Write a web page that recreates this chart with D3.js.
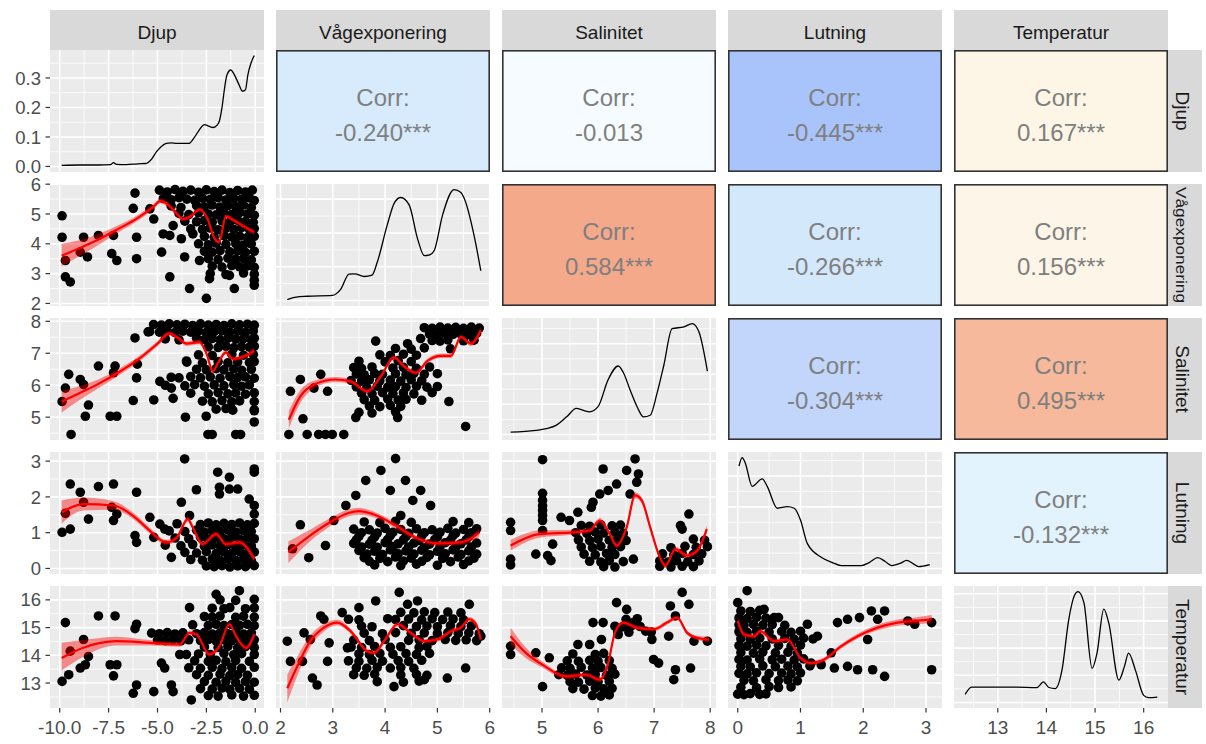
<!DOCTYPE html>
<html><head><meta charset="utf-8">
<script src="https://cdn.jsdelivr.net/npm/d3@7"></script>
<style>body{margin:0;background:#fff}svg{display:block}text{font-family:"Liberation Sans",Arial,sans-serif}</style>
</head><body>
<svg id="c" width="1206" height="744"></svg>
<script>
// ---------- data ----------
const variables = ["Djup","Vågexponering","Salinitet","Lutning","Temperatur"];
const varRanges = [[-10,-0.05],[2.1,5.82],[4.46,7.93],[0,3.1],[12.3,16.3]];
const tickValues = [[-10,-7.5,-5,-2.5,0],[2,3,4,5,6],[5,6,7,8],[0,1,2,3],[13,14,15,16]];
const tickLabels = [["-10.0","-7.5","-5.0","-2.5","0.0"],["2","3","4","5","6"],["5","6","7","8"],["0","1","2","3"],["13","14","15","16"]];
const djupDensityTicks = [0,0.1,0.2,0.3];
const djupDensityLabels = ["0.0","0.1","0.2","0.3"];

// correlation cells [row, col]
const corrCells = [[0,1],[0,2],[0,3],[0,4],[1,2],[1,3],[1,4],[2,3],[2,4],[3,4]];
const corrValues = ["-0.240","-0.013","-0.445","0.167","0.584","-0.266","0.156","-0.304","0.495","-0.132"];
const corrStars = ["***","","***","***","***","***","***","***","***","***"];

// diagonal densities [x, density]
const densDjup = [[-9.9,0.004],[-9.0,0.005],[-8.0,0.005],[-7.4,0.006],[-7.25,0.013],[-7.1,0.007],[-6.6,0.006],[-6.0,0.009],[-5.6,0.01],[-5.3,0.025],[-5.05,0.05],[-4.8,0.068],[-4.55,0.078],[-4.3,0.08],[-4.0,0.078],[-3.4,0.078],[-3.15,0.095],[-2.85,0.125],[-2.6,0.142],[-2.35,0.136],[-2.15,0.132],[-1.95,0.14],[-1.83,0.155],[-1.7,0.2],[-1.58,0.26],[-1.45,0.31],[-1.25,0.327],[-1.1,0.315],[-0.85,0.28],[-0.65,0.255],[-0.5,0.26],[-0.38,0.31],[-0.22,0.35],[-0.05,0.376]];
const densVag = [[2.13,0.005],[2.3,0.02],[2.51,0.025],[2.99,0.03],[3.15,0.066],[3.31,0.156],[3.42,0.158],[3.6,0.142],[3.75,0.15],[3.85,0.226],[4.04,0.446],[4.18,0.58],[4.3,0.61],[4.46,0.566],[4.62,0.366],[4.75,0.265],[4.85,0.27],[4.94,0.296],[5.1,0.507],[5.32,0.657],[5.45,0.64],[5.51,0.607],[5.7,0.387],[5.83,0.176]];
const densSal = [[4.44,0.015],[4.89,0.027],[5.1,0.04],[5.25,0.06],[5.45,0.12],[5.61,0.172],[5.75,0.158],[5.85,0.15],[6.0,0.184],[6.18,0.363],[6.36,0.453],[6.45,0.41],[6.57,0.296],[6.7,0.18],[6.81,0.116],[6.93,0.127],[7.05,0.27],[7.17,0.453],[7.32,0.7],[7.53,0.712],[7.68,0.734],[7.8,0.678],[7.95,0.419]];
const densLut = [[0.02,0.664],[0.07,0.72],[0.12,0.685],[0.23,0.533],[0.39,0.581],[0.47,0.533],[0.63,0.391],[0.79,0.401],[0.9,0.391],[1.0,0.314],[1.11,0.161],[1.33,0.073],[1.5,0.04],[1.65,0.019],[1.97,0.019],[2.1,0.04],[2.23,0.07],[2.35,0.045],[2.45,0.019],[2.6,0.035],[2.69,0.052],[2.8,0.03],[2.88,0.012],[3.06,0.025]];
const densTemp = [[12.33,0.059],[12.46,0.113],[12.9,0.113],[13.36,0.113],[13.8,0.109],[13.94,0.151],[14.05,0.11],[14.18,0.102],[14.32,0.238],[14.46,0.612],[14.58,0.79],[14.65,0.816],[14.77,0.736],[14.94,0.251],[15.04,0.363],[15.18,0.686],[15.28,0.587],[15.49,0.164],[15.6,0.26],[15.69,0.363],[15.83,0.238],[16.0,0.052],[16.1,0.035],[16.28,0.039]];

// scatter points [x, y]
const vagDjup = [[-9.88,4.94],[-9.88,4.22],[-9.71,3.44],[-9.71,2.89],[-9.46,2.72],[-8.78,4.22],[-8.95,3.72],[-8.58,3.56],[-8.02,4.28],[-7.25,4.28],[-7.34,3.67],[-7.08,3.44],[-6.15,5.7],[-6.24,5.19],[-6.07,4.22],[-6.07,3.5],[-5.39,5.17],[-5.19,4.83],[-4.79,3.72],[-4.71,4.33],[-4.37,4.28],[-4.37,2.89],[-3.36,2.5],[-2.5,2.17],[-2.34,2.83],[-1.32,2.94],[-1.07,2.5],[-0.05,2.78],[-0.05,2.61],[-3.78,4.17],[-3.61,3.56],[-3.19,4.33],[-2.85,3.44],[-4.2,4.61],
[-4.9,5.8],[-4.5,5.74],[-4.1,5.82],[-3.7,5.76],[-3.3,5.8],[-2.9,5.73],[-2.5,5.81],[-2.1,5.75],[-1.7,5.8],[-1.3,5.72],[-0.9,5.79],[-0.5,5.74],[-0.15,5.8],
[-4.7,5.52],[-4.3,5.48],[-3.9,5.55],[-3.5,5.5],[-3.1,5.46],[-2.7,5.53],[-2.3,5.49],[-1.9,5.55],[-1.5,5.47],[-1.1,5.52],[-0.7,5.5],[-0.3,5.54],[-0.05,5.45],
[-4.3,5.27],[-3.8,5.22],[-3.0,5.28],[-2.6,5.24],[-2.2,5.3],[-1.8,5.23],[-1.4,5.28],[-1.0,5.25],[-0.6,5.3],[-0.2,5.22],
[-3.9,5.02],[-3.4,4.98],[-2.9,5.04],[-2.4,5.0],[-2.0,4.97],[-1.6,5.03],[-1.2,4.99],[-0.8,5.05],[-0.4,5.0],[-0.05,4.96],
[-3.6,4.76],[-3.0,4.74],[-2.6,4.78],[-2.2,4.72],[-1.7,4.77],[-1.3,4.73],[-0.9,4.79],[-0.5,4.75],[-0.1,4.72],
[-3.3,4.5],[-2.7,4.48],[-2.3,4.53],[-1.9,4.47],[-1.5,4.52],[-1.1,4.49],[-0.7,4.54],[-0.3,4.48],[-0.05,4.51],
[-2.6,4.25],[-2.1,4.22],[-1.6,4.27],[-1.2,4.23],[-0.8,4.26],[-0.4,4.21],[-0.05,4.25],
[-2.9,4.0],[-2.4,3.97],[-2.0,4.02],[-1.5,3.98],[-1.0,4.01],[-0.6,3.96],[-0.2,4.0],
[-2.6,3.75],[-2.2,3.72],[-1.8,3.77],[-1.3,3.73],[-0.9,3.76],[-0.5,3.71],[-0.05,3.75],
[-2.4,3.5],[-1.9,3.47],[-1.4,3.52],[-1.0,3.48],[-0.6,3.51],[-0.2,3.46],
[-2.2,3.25],[-1.7,3.22],[-1.2,3.27],[-0.8,3.23],[-0.4,3.26],[-0.05,3.21],
[-2.3,3.0],[-1.5,2.97],[-0.6,3.02],[-0.05,2.98]];

const salDjup = [[-9.88,5.49],[-9.71,5.91],[-9.54,6.34],[-9.42,4.46],[-8.95,6.18],[-8.78,6.02],[-8.53,5.38],[-8.69,5.03],[-8.02,6.6],[-7.42,5.03],[-7.08,5.03],[-7.17,6.6],[-7.25,6.39],[-6.15,7.48],[-6.07,6.23],[-6.24,5.52],[-6.03,6.66],[-5.19,5.54],[-5.48,7.67],[-4.88,6.12],[-4.29,5.91],[-4.2,5.59],[-3.57,5.0],[-3.52,6.76],[-2.51,5.03],[-2.42,4.46],[-2.2,4.46],[-1.0,4.46],[-0.75,4.46],[-0.05,5.2],[-0.05,4.85],[-1.15,5.22],
[-5.2,7.9],[-4.8,7.88],[-4.4,7.92],[-4.0,7.89],[-3.6,7.91],[-3.2,7.87],[-2.8,7.92],[-2.4,7.88],[-2.0,7.9],[-1.6,7.87],[-1.2,7.92],[-0.8,7.89],[-0.4,7.91],[-0.05,7.88],
[-5.4,7.68],[-4.9,7.66],[-4.5,7.7],[-4.1,7.65],[-3.7,7.69],[-3.3,7.66],[-2.9,7.7],[-2.5,7.65],[-2.1,7.68],[-1.7,7.7],[-1.3,7.66],[-0.9,7.69],[-0.5,7.65],[-0.1,7.7],
[-4.6,7.45],[-3.9,7.42],[-3.0,7.47],[-2.6,7.43],[-2.2,7.46],[-1.8,7.42],[-1.4,7.47],[-1.0,7.44],[-0.6,7.46],[-0.2,7.42],[-0.05,7.47],
[-2.4,7.2],[-1.9,7.18],[-1.5,7.22],[-1.1,7.17],[-0.7,7.21],[-0.3,7.19],[-0.05,7.22],
[-2.9,6.95],[-2.2,6.93],[-1.2,6.97],[-0.6,6.94],[-0.1,6.96],
[-3.5,6.72],[-2.7,6.7],[-1.9,6.74],[-1.4,6.7],[-0.9,6.73],[-0.3,6.71],[-0.05,6.74],
[-3.0,6.5],[-2.5,6.48],[-2.0,6.52],[-1.6,6.48],[-1.1,6.51],[-0.7,6.47],[-0.2,6.5],
[-4.3,6.25],[-3.9,6.23],[-3.3,6.27],[-2.8,6.23],[-2.3,6.26],[-1.8,6.22],[-1.3,6.27],[-0.9,6.24],[-0.5,6.26],[-0.05,6.22],
[-4.6,6.0],[-3.6,5.98],[-3.1,6.02],[-2.6,5.97],[-2.1,6.01],[-1.6,5.98],[-1.1,6.02],[-0.7,5.97],[-0.3,6.01],
[-3.3,5.75],[-2.4,5.73],[-1.9,5.77],[-1.4,5.73],[-1.0,5.76],[-0.5,5.72],[-0.05,5.76],
[-2.7,5.5],[-2.2,5.48],[-1.7,5.52],[-1.2,5.48],[-0.8,5.51],[-0.05,5.49],
[-2.0,5.25],[-1.5,5.27],[-0.05,5.23]];

const lutDjup = [[-9.88,1.01],[-9.46,1.1],[-9.71,1.54],[-9.46,2.36],[-8.95,2.13],[-8.78,1.85],[-8.53,1.38],[-8.02,2.29],[-7.25,2.36],[-7.34,1.71],[-7.08,1.52],[-7.25,1.34],[-6.15,0.92],[-6.07,0.73],[-6.07,2.13],[-5.39,1.43],[-5.19,0.87],[-4.88,1.24],[-4.63,1.1],[-4.29,0.31],[-3.78,1.85],[-3.61,3.06],[-3.01,2.2],[-3.36,1.48],[-1.92,2.69],[-1.83,2.27],[-1.83,2.08],[-1.32,2.55],[-1.32,2.22],[-0.9,2.22],[-0.31,1.94],[-0.05,2.69],[-0.05,2.78],[-0.05,1.76],[-0.05,1.52],
[-4.0,1.25],[-2.8,1.23],[-2.4,1.27],[-2.0,1.22],[-1.6,1.26],[-1.2,1.23],[-0.8,1.27],[-0.4,1.22],[-0.05,1.26],
[-4.4,1.05],[-3.6,1.03],[-3.0,1.07],[-2.6,1.02],[-2.2,1.06],[-1.8,1.03],[-1.4,1.07],[-1.0,1.02],[-0.6,1.06],[-0.2,1.03],
[-4.1,0.85],[-3.4,0.83],[-2.8,0.87],[-2.4,0.82],[-2.0,0.86],[-1.6,0.83],[-1.2,0.87],[-0.8,0.82],[-0.4,0.86],[-0.05,0.83],
[-4.6,0.65],[-3.8,0.63],[-3.2,0.67],[-2.6,0.62],[-2.2,0.66],[-1.8,0.63],[-1.4,0.67],[-1.0,0.62],[-0.6,0.66],[-0.2,0.63],
[-3.6,0.45],[-3.0,0.43],[-2.5,0.47],[-2.0,0.42],[-1.6,0.46],[-1.2,0.43],[-0.8,0.47],[-0.4,0.42],[-0.05,0.46],
[-3.3,0.25],[-2.7,0.23],[-2.2,0.27],[-1.8,0.22],[-1.4,0.26],[-1.0,0.23],[-0.6,0.27],[-0.2,0.22],
[-2.5,0.07],[-2.1,0.05],[-1.7,0.08],[-1.3,0.04],[-0.9,0.07],[-0.5,0.05],[-0.05,0.08]];

const tempDjup = [[-9.88,13.06],[-9.71,15.18],[-9.46,14.15],[-9.54,13.3],[-8.78,14.57],[-8.95,13.54],[-8.69,13.66],[-8.53,13.96],[-8.02,15.42],[-7.17,15.42],[-7.42,13.66],[-7.08,13.66],[-7.25,13.26],[-6.15,14.96],[-6.07,15.12],[-6.07,12.93],[-6.24,12.63],[-5.19,12.69],[-4.8,13.72],[-4.63,13.54],[-4.29,12.93],[-4.2,12.69],[-3.86,14.03],[-3.52,14.03],[-3.36,15.72],[-3.27,12.39],[-2.0,16.2],[-0.81,16.33],
[-5.3,14.8],[-4.9,14.78],[-4.5,14.82],[-4.1,14.77],[-3.7,14.81],[-3.0,14.78],[-2.6,14.82],[-2.2,14.77],[-1.8,14.81],[-1.4,14.78],[-1.0,14.82],[-0.6,14.77],[-0.2,14.81],
[-5.0,14.55],[-4.6,14.53],[-4.2,14.57],[-3.8,14.52],[-3.4,14.56],[-2.8,14.53],[-2.4,14.57],[-2.0,14.52],[-1.6,14.56],[-1.2,14.53],[-0.8,14.57],[-0.4,14.52],[-0.05,14.56],
[-3.2,15.1],[-2.4,15.08],[-2.0,15.12],[-1.6,15.07],[-1.2,15.11],[-0.8,15.08],[-0.4,15.12],[-0.05,15.07],
[-2.6,15.4],[-2.2,15.38],[-1.8,15.42],[-1.0,15.37],[-0.6,15.41],[-0.05,15.38],
[-2.2,15.7],[-1.6,15.68],[-1.3,15.72],[-0.5,15.68],[-0.05,15.71],
[-1.8,16.0],[-1.0,15.98],[-0.05,16.02],
[-2.6,14.3],[-1.9,14.28],[-1.4,14.32],[-0.9,14.27],[-0.5,14.31],[-0.05,14.28],
[-2.9,14.05],[-2.3,14.03],[-1.6,14.07],[-1.1,14.02],[-0.7,14.06],[-0.05,14.03],
[-3.1,13.8],[-2.4,13.78],[-2.0,13.82],[-1.5,13.77],[-1.0,13.81],[-0.3,13.78],
[-3.4,13.55],[-2.8,13.53],[-2.2,13.57],[-1.7,13.52],[-1.2,13.56],[-0.7,13.53],[-0.05,13.57],
[-3.0,13.3],[-2.4,13.28],[-1.8,13.32],[-1.3,13.27],[-0.9,13.31],[-0.4,13.28],
[-2.6,13.05],[-2.0,13.03],[-1.5,13.07],[-1.0,13.02],[-0.5,13.06],[-0.05,13.03],
[-2.8,12.8],[-2.2,12.78],[-1.7,12.82],[-1.3,12.77],[-0.8,12.81],[-0.3,12.78],
[-2.4,12.55],[-1.9,12.53],[-1.2,12.57],[-0.6,12.53],[-0.05,12.56]];

const salVag = [[2.16,4.46],[2.51,4.46],[2.73,4.46],[2.86,4.46],[2.99,4.46],[3.21,4.46],[2.19,5.81],[2.38,6.18],[2.43,4.95],[2.77,6.34],[2.9,5.81],[2.64,5.91],[3.82,7.38],[4.24,4.99],[3.44,4.99],[5.54,4.71],[5.22,5.49],[4.68,7.46],[4.43,7.3],
[4.75,7.8],[4.9,7.78],[5.05,7.82],[5.2,7.79],[5.35,7.81],[5.5,7.78],[5.65,7.82],[5.8,7.79],
[4.85,7.6],[5.0,7.58],[5.15,7.62],[5.3,7.59],[5.45,7.61],[5.6,7.58],[5.75,7.62],
[4.9,7.4],[5.05,7.38],[5.2,7.42],[5.5,7.39],[5.7,7.41],
[4.2,7.15],[4.5,7.13],[4.75,7.17],[5.25,7.14],
[3.9,6.95],[4.1,6.93],[4.35,6.97],[4.6,6.94],
[3.5,6.75],[4.0,6.73],[4.25,6.77],[4.5,6.74],
[3.4,6.55],[3.55,6.53],[3.75,6.57],[4.15,6.54],[4.35,6.56],[4.6,6.53],[4.85,6.57],
[3.45,6.35],[3.6,6.33],[3.8,6.37],[3.95,6.34],[4.2,6.36],[4.4,6.33],[4.55,6.37],[4.75,6.34],[5.0,6.36],
[3.35,6.15],[3.55,6.13],[3.7,6.17],[3.9,6.14],[4.1,6.16],[4.3,6.13],[4.5,6.17],[4.7,6.14],
[3.45,5.95],[3.65,5.93],[3.85,5.97],[4.05,5.94],[4.2,5.96],[4.4,5.93],[4.6,5.97],[4.8,5.94],[5.0,5.96],
[3.55,5.75],[3.75,5.73],[3.95,5.77],[4.15,5.74],[4.35,5.76],[4.55,5.73],[4.9,5.77],
[3.6,5.55],[3.8,5.53],[4.05,5.57],[4.25,5.54],[4.4,5.56],[4.7,5.53],
[3.7,5.35],[3.9,5.33],[4.1,5.37],[4.3,5.34],
[3.5,5.15],[3.75,5.13],[4.2,5.17]];

const lutVag = [[2.23,0.55],[2.38,1.22],[2.54,0.3],[2.86,0.64],[3.02,1.34],[3.25,1.76],[3.44,2.04],[3.63,2.46],[3.92,2.74],[4.2,3.07],[4.1,2.18],[4.39,2.46],[4.53,1.9],[4.68,2.18],[4.87,1.76],[4.3,1.48],
[3.6,1.3],[3.9,1.28],[4.2,1.32],[4.5,1.29],[5.3,1.31],[5.6,1.28],
[3.4,1.1],[3.7,1.08],[4.0,1.12],[4.3,1.09],[4.6,1.11],[4.9,1.08],[5.2,1.12],[5.5,1.09],[5.75,1.11],
[3.55,1.0],[3.85,0.99],[4.15,1.01],[4.45,0.98],[4.75,1.0],[5.05,1.01],[5.35,0.99],[5.65,1.0],
[3.5,0.9],[3.8,0.88],[4.1,0.92],[4.4,0.89],[4.7,0.91],[5.0,0.88],[5.3,0.92],[5.6,0.89],
[3.45,0.8],[3.75,0.79],[4.05,0.81],[4.35,0.8],[4.65,0.78],[4.95,0.81],[5.25,0.79],[5.55,0.8],
[3.4,0.7],[3.7,0.68],[4.0,0.72],[4.25,0.69],[4.55,0.71],[4.85,0.68],[5.15,0.72],[5.45,0.69],[5.75,0.71],
[3.55,0.6],[3.85,0.59],[4.15,0.61],[4.45,0.6],[4.75,0.58],[5.05,0.61],[5.35,0.59],[5.65,0.6],
[3.5,0.5],[3.8,0.48],[4.1,0.52],[4.4,0.49],[4.7,0.51],[5.0,0.48],[5.3,0.52],[5.6,0.49],
[3.65,0.4],[3.95,0.39],[4.25,0.41],[4.55,0.4],[4.85,0.38],[5.15,0.41],[5.45,0.39],[5.75,0.4],
[3.6,0.3],[3.9,0.28],[4.2,0.32],[4.5,0.29],[4.8,0.31],[5.1,0.28],[5.4,0.32],[5.7,0.29],
[3.7,0.2],[4.05,0.19],[4.35,0.21],[4.7,0.2],[5.25,0.19],[5.6,0.21],
[3.8,0.1],[4.3,0.08],[4.6,0.12],[5.0,0.09],[5.5,0.11]];

const tempVag = [[2.13,14.51],[2.19,13.78],[2.42,13.78],[2.61,13.18],[2.7,12.93],[2.77,15.42],[2.83,15.3],[2.9,13.78],[2.45,14.81],[2.57,14.57],[2.93,14.45],[3.18,15.54],[3.28,14.27],[3.5,15.72],[3.82,15.96],[4.27,16.27],[4.43,15.84],[4.62,15.96],[5.19,13.18],[5.54,13.54],[5.61,15.84],[5.83,14.69],[4.75,13.12],[4.17,12.87],
[4.3,15.55],[4.55,15.53],[4.75,15.57],[4.95,15.54],[5.2,15.56],[5.45,15.53],
[3.3,15.3],[3.5,15.28],[4.05,15.32],[4.2,15.29],[4.45,15.31],[4.7,15.28],[4.9,15.32],[5.1,15.29],[5.3,15.31],[5.5,15.28],
[3.55,15.05],[3.75,15.03],[4.35,15.07],[4.6,15.04],[4.8,15.06],[5.0,15.03],[5.25,15.07],[5.45,15.04],[5.65,15.06],
[3.6,14.8],[3.95,14.78],[4.2,14.82],[4.5,14.79],[4.75,14.81],[5.0,14.78],[5.2,14.82],[5.4,14.79],[5.6,14.81],[5.8,14.78],
[3.4,14.55],[3.7,14.53],[4.0,14.57],[4.45,14.54],[4.65,14.56],[4.9,14.53],[5.15,14.57],[5.35,14.54],[5.55,14.56],[5.75,14.53],
[3.35,14.3],[3.55,14.28],[3.8,14.32],[4.1,14.29],[4.3,14.31],[4.65,14.28],[4.8,14.32],
[3.5,14.05],[3.7,14.03],[3.9,14.07],[4.15,14.04],[4.4,14.06],[4.6,14.03],[4.85,14.07],
[3.3,13.8],[3.5,13.78],[3.75,13.82],[3.95,13.79],[4.25,13.81],[4.45,13.78],[4.7,13.82],
[3.45,13.55],[3.65,13.53],[3.85,13.57],[4.1,13.54],[4.3,13.56],[4.55,13.53],
[3.4,13.3],[3.6,13.28],[3.8,13.32],[4.3,13.29],[4.6,13.31],[4.8,13.28],
[3.85,13.05],[4.35,13.03],[4.65,13.07]];

const lutSal = [[5.01,3.04],[5.01,2.1],[5.01,1.9],[5.01,1.75],[5.01,1.62],[5.01,1.48],[5.01,1.34],[5.01,1.06],[4.44,1.29],[4.44,1.06],[4.44,0.26],[4.44,0.1],[4.89,0.4],[5.1,0.36],[5.16,0.22],[5.19,0.68],[5.34,1.43],[5.49,1.34],[5.64,1.57],[6.09,2.78],[5.91,1.85],[5.88,1.71],[6.03,2.08],[6.18,2.18],[6.33,2.36],[6.51,2.74],[6.66,3.06],[6.72,2.64],[6.69,2.41],[6.57,2.08],[6.63,0.26],[7.62,1.52],[7.47,1.2],[7.5,1.1],
[5.7,1.2],[5.85,1.18],[6.05,1.22],[6.25,1.19],[6.4,1.21],
[5.6,1.0],[5.8,0.98],[5.95,1.02],[6.1,0.99],[6.3,1.01],[6.45,0.98],
[5.65,0.8],[5.85,0.78],[6.0,0.82],[6.2,0.79],[6.35,0.81],[6.5,0.78],[7.7,0.82],[7.9,0.79],
[5.7,0.6],[5.9,0.58],[6.05,0.62],[6.25,0.59],[6.4,0.61],[7.3,0.58],[7.55,0.62],[7.75,0.59],[7.95,0.61],
[5.75,0.4],[5.95,0.38],[6.15,0.42],[6.3,0.39],[7.15,0.41],[7.35,0.38],[7.5,0.42],[7.7,0.39],[7.85,0.41],
[5.85,0.2],[6.05,0.18],[6.2,0.22],[6.45,0.19],[7.1,0.21],[7.25,0.18],[7.4,0.22],[7.6,0.19],[7.8,0.21],
[6.1,0.05],[6.3,0.04],[7.1,0.06],[7.3,0.04],[7.5,0.06],[7.7,0.05]];

const tempSal = [[4.44,14.03],[4.44,14.33],[4.89,14.09],[5.01,12.87],[5.13,13.91],[6.33,15.9],[5.91,15.18],[6.09,15.18],[5.64,14.39],[5.85,14.39],[6.06,14.57],[6.96,14.57],[7.29,15.78],[7.5,16.27],[7.62,15.84],[7.35,13.12],[7.38,13.48],[7.65,13.54],[6.99,13.85],[7.08,13.72],[6.36,14.75],[7.95,14.51],[7.71,14.51],[7.38,15.42],[7.26,14.69],[6.51,15.66],[6.63,15.18],
[5.55,14.05],[5.95,14.03],[6.1,14.07],
[5.45,13.8],[5.65,13.78],[5.85,13.82],[6.0,13.79],[6.2,13.81],
[5.35,13.55],[5.5,13.53],[5.7,13.57],[5.9,13.54],[6.05,13.56],[6.25,13.53],
[5.3,13.3],[5.45,13.28],[5.6,13.32],[5.8,13.29],[5.95,13.31],[6.15,13.28],[6.3,13.32],
[5.5,13.05],[5.65,13.03],[5.85,13.07],[6.0,13.04],[6.2,13.06],
[5.55,12.8],[5.75,12.78],[5.95,12.82],[6.1,12.79],[6.25,12.81],
[5.9,12.55],[6.05,12.53],[6.2,12.57],
[6.3,15.05],[6.45,15.03],[6.6,15.07],[6.75,15.04],
[6.35,14.85],[6.55,14.83],[6.85,14.87],[6.95,14.84],
[6.5,15.3],[6.7,15.32]];

const tempLut = [[0.15,16.33],[0.0,15.9],[0.42,15.66],[0.58,15.36],[1.59,15.18],[1.75,15.3],[1.94,15.36],[2.13,15.6],[2.34,15.6],[2.23,15.3],[2.71,15.24],[2.82,15.12],[3.09,15.18],[3.09,13.48],[1.75,13.6],[1.91,13.48],[2.15,13.48],[2.34,13.24],[1.54,13.54],[1.33,13.66],[1.49,14.09],[2.07,14.57],[1.11,15.12],[1.27,14.69],[1.17,13.72],
[0.05,15.6],[0.2,15.58],[0.35,15.62],
[0.02,15.35],[0.15,15.33],[0.3,15.37],[0.45,15.34],[0.65,15.36],
[0.02,15.1],[0.1,15.08],[0.25,15.12],[0.4,15.09],[0.55,15.11],[0.75,15.08],
[0.02,14.85],[0.15,14.83],[0.3,14.87],[0.5,14.84],[0.7,14.86],[0.85,14.83],[1.0,14.87],
[0.05,14.6],[0.2,14.58],[0.35,14.62],[0.55,14.59],[0.75,14.61],[0.9,14.58],[1.05,14.62],[1.2,14.59],
[0.02,14.35],[0.15,14.33],[0.3,14.37],[0.45,14.34],[0.65,14.36],[0.85,14.33],[1.0,14.37],
[0.05,14.1],[0.25,14.08],[0.4,14.12],[0.6,14.09],[0.8,14.11],[0.95,14.08],
[0.02,13.85],[0.15,13.83],[0.35,13.87],[0.55,13.84],[0.7,13.86],[0.9,13.83],[1.05,13.87],
[0.05,13.6],[0.2,13.58],[0.4,13.62],[0.6,13.59],[0.8,13.61],[0.95,13.58],[1.15,13.62],
[0.02,13.35],[0.15,13.33],[0.3,13.37],[0.5,13.34],[0.7,13.36],[0.85,13.33],[1.0,13.37],
[0.1,13.1],[0.25,13.08],[0.45,13.12],[0.65,13.09],[0.8,13.11],[0.95,13.08],
[0.05,12.85],[0.3,12.83],[0.5,12.87],[0.65,12.84],[0.85,12.86],
[0.0,12.6],[0.1,12.58],[0.2,12.62],[0.35,12.59],[0.45,12.61]];

// loess fits [x, fit, lower, upper]
const fitVagDjup = [[-9.9,3.6,3.25,4.0],[-9.0,3.85,3.58,4.12],[-8.0,4.15,3.97,4.33],[-7.0,4.5,4.38,4.62],[-6.0,4.87,4.77,4.97],[-5.2,5.25,5.16,5.34],[-4.85,5.44,5.36,5.52],[-4.5,5.33,5.25,5.41],[-4.0,5.0,4.92,5.08],[-3.7,4.83,4.76,4.9],[-3.36,4.9,4.83,4.97],[-2.85,5.15,5.08,5.22],[-2.45,4.85,4.78,4.92],[-2.1,4.2,4.13,4.27],[-1.85,4.06,3.99,4.13],[-1.5,4.92,4.85,4.99],[-1.0,4.75,4.68,4.82],[-0.5,4.55,4.48,4.62],[-0.05,4.39,4.3,4.48]];
const fitSalDjup = [[-9.9,5.49,5.15,5.82],[-9.0,5.75,5.53,5.97],[-8.0,6.05,5.91,6.19],[-7.0,6.4,6.3,6.5],[-6.0,6.8,6.71,6.89],[-5.0,7.3,7.22,7.38],[-4.4,7.62,7.55,7.69],[-4.0,7.5,7.43,7.57],[-3.5,7.3,7.23,7.37],[-2.85,7.35,7.28,7.42],[-2.5,7.0,6.93,7.07],[-2.17,6.44,6.37,6.51],[-1.9,6.7,6.63,6.77],[-1.5,7.03,6.96,7.1],[-1.15,6.82,6.75,6.89],[-0.5,6.92,6.85,6.99],[-0.05,7.08,6.98,7.18]];
const fitLutDjup = [[-9.9,1.57,1.25,1.9],[-8.8,1.8,1.62,1.98],[-7.25,1.76,1.64,1.88],[-6.15,1.43,1.34,1.52],[-5.4,1.06,0.98,1.14],[-4.55,0.73,0.66,0.8],[-4.0,0.87,0.8,0.94],[-3.45,1.38,1.31,1.45],[-3.2,1.15,1.08,1.22],[-2.7,0.68,0.61,0.75],[-2.0,0.96,0.89,1.03],[-1.5,0.68,0.61,0.75],[-0.8,0.73,0.66,0.8],[-0.05,0.26,0.16,0.36]];
const fitTempDjup = [[-9.9,13.9,13.45,14.45],[-8.8,14.27,13.95,14.55],[-7.1,14.51,14.35,14.67],[-5.4,14.45,14.35,14.55],[-3.86,14.39,14.31,14.47],[-3.36,14.81,14.73,14.89],[-3.0,14.75,14.67,14.83],[-2.35,14.03,13.95,14.11],[-1.83,14.33,14.25,14.41],[-1.32,15.12,15.04,15.2],[-0.98,14.69,14.61,14.77],[-0.47,14.27,14.19,14.35],[-0.05,14.75,14.63,14.87]];
const fitSalVag = [[2.16,4.92,4.65,5.2],[2.38,5.65,5.45,5.85],[2.64,6.02,5.9,6.14],[3.05,6.18,6.1,6.26],[3.34,6.12,6.05,6.19],[3.66,5.81,5.74,5.88],[3.92,6.28,6.21,6.35],[4.17,6.87,6.8,6.94],[4.36,6.6,6.53,6.67],[4.59,6.39,6.32,6.46],[4.81,6.76,6.69,6.83],[5.07,6.92,6.85,6.99],[5.26,6.92,6.85,6.99],[5.45,7.51,7.44,7.58],[5.64,7.3,7.23,7.37],[5.83,7.72,7.62,7.82]];
const fitLutVag = [[2.15,0.45,0.15,0.75],[2.5,0.85,0.67,1.03],[2.9,1.25,1.13,1.37],[3.3,1.55,1.45,1.65],[3.5,1.6,1.5,1.7],[3.8,1.5,1.42,1.58],[4.2,1.2,1.12,1.28],[4.6,0.85,0.78,0.92],[5.0,0.7,0.63,0.77],[5.4,0.72,0.65,0.79],[5.6,0.8,0.72,0.88],[5.8,1.0,0.88,1.12]];
const fitTempVag = [[2.13,12.81,12.3,13.3],[2.32,13.6,13.25,13.95],[2.57,14.51,14.3,14.72],[2.83,15.0,14.86,15.14],[3.09,15.18,15.08,15.28],[3.34,14.87,14.78,14.96],[3.66,14.15,14.07,14.23],[3.79,14.09,14.01,14.17],[3.98,14.51,14.43,14.59],[4.24,15.12,15.04,15.2],[4.49,14.81,14.73,14.89],[4.75,14.51,14.43,14.59],[5.0,14.57,14.49,14.65],[5.26,14.87,14.79,14.95],[5.45,15.0,14.92,15.08],[5.61,15.3,15.22,15.38],[5.74,15.12,15.02,15.22],[5.83,14.57,14.45,14.69]];
const fitLutSal = [[4.44,0.64,0.5,0.8],[4.95,0.96,0.86,1.06],[5.55,1.01,0.94,1.08],[5.85,1.06,0.99,1.13],[6.03,1.34,1.27,1.41],[6.21,0.96,0.89,1.03],[6.33,0.64,0.57,0.71],[6.51,1.15,1.08,1.22],[6.66,2.04,1.96,2.12],[6.78,1.9,1.82,1.98],[6.93,1.15,1.07,1.23],[7.08,0.4,0.33,0.47],[7.2,0.08,0.01,0.15],[7.38,0.54,0.47,0.61],[7.59,0.36,0.29,0.43],[7.77,0.5,0.43,0.57],[7.94,1.1,1.0,1.2]];
const fitTempSal = [[4.44,14.69,14.4,15.0],[4.71,14.09,13.9,14.28],[5.01,13.66,13.55,13.77],[5.43,13.24,13.15,13.33],[5.79,13.3,13.22,13.38],[6.03,13.12,13.04,13.2],[6.18,13.72,13.64,13.8],[6.3,14.81,14.73,14.89],[6.45,15.18,15.1,15.26],[6.69,15.0,14.92,15.08],[6.99,14.94,14.86,15.02],[7.23,15.18,15.1,15.26],[7.41,15.36,15.28,15.44],[7.59,14.81,14.73,14.89],[7.77,14.63,14.55,14.71],[7.98,14.57,14.47,14.67]];
const fitTempLut = [[0.0,15.24,15.1,15.38],[0.1,14.75,14.66,14.84],[0.26,14.69,14.61,14.77],[0.36,14.87,14.79,14.95],[0.58,14.51,14.43,14.59],[0.79,14.57,14.49,14.65],[1.0,13.91,13.83,13.99],[1.17,13.72,13.64,13.8],[1.38,13.85,13.77,13.93],[1.65,14.33,14.25,14.41],[1.91,14.69,14.6,14.78],[2.23,15.0,14.9,15.1],[2.55,15.18,15.07,15.29],[2.82,15.24,15.12,15.36],[3.09,15.3,15.15,15.45]];

// ---------- styles ----------
const corrFills = ["#d8ebfc","#f6fbff","#a9c4fa","#fdf6e7","#f5a98b","#d4e8fc","#fdf6e8","#c1d6fa","#f7b99b","#e3f3fd"];

// ---------- drawing ----------
const svg = d3.select("#c");
const W = 214, H = 122, X0 = 50, Y0 = 50, DX = 226, DY = 134;
const px = i => X0 + i*DX, py = j => Y0 + j*DY;
const expand = ([a,b]) => { const p=(b-a)*0.05; return [a-p,b+p]; };
const xs = varRanges.map((r,i)=>d3.scaleLinear().domain(expand(r)).range([px(i),px(i)+W]));
const ys = varRanges.map((r,j)=>d3.scaleLinear().domain(expand(r)).range([py(j)+H,py(j)]));
function minors(maj, dom){
  const s = maj[1]-maj[0], out=[maj[0]-s/2];
  for(let k=0;k<maj.length-1;k++) out.push((maj[k]+maj[k+1])/2);
  out.push(maj[maj.length-1]+s/2);
  return out.filter(v=>v>dom[0]&&v<dom[1]);
}
const defs = svg.append("defs");

function panelBase(i,j,xMaj,yScale,yMaj){
  const g = svg.append("g");
  g.append("rect").attr("x",px(i)).attr("y",py(j)).attr("width",W).attr("height",H).attr("fill","#EBEBEB");
  const xd = xs[i].domain(), yd = yScale.domain();
  minors(xMaj,xd).forEach(v=>g.append("line").attr("x1",xs[i](v)).attr("x2",xs[i](v)).attr("y1",py(j)).attr("y2",py(j)+H).attr("stroke","#fff").attr("stroke-width",0.8));
  minors(yMaj,yd).forEach(v=>g.append("line").attr("y1",yScale(v)).attr("y2",yScale(v)).attr("x1",px(i)).attr("x2",px(i)+W).attr("stroke","#fff").attr("stroke-width",0.8));
  xMaj.filter(v=>v>=xd[0]&&v<=xd[1]).forEach(v=>g.append("line").attr("x1",xs[i](v)).attr("x2",xs[i](v)).attr("y1",py(j)).attr("y2",py(j)+H).attr("stroke","#fff").attr("stroke-width",1.6));
  yMaj.filter(v=>v>=yd[0]&&v<=yd[1]).forEach(v=>g.append("line").attr("y1",yScale(v)).attr("y2",yScale(v)).attr("x1",px(i)).attr("x2",px(i)+W).attr("stroke","#fff").attr("stroke-width",1.6));
  const id = "clip"+i+"_"+j;
  defs.append("clipPath").attr("id",id).append("rect").attr("x",px(i)).attr("y",py(j)).attr("width",W).attr("height",H);
  return g.append("g").attr("clip-path","url(#"+id+")");
}

// diagonal
const densities = [densDjup,densVag,densSal,densLut,densTemp];
const densYScales = [];
densities.forEach((dens,k)=>{
  const mx = d3.max(dens,d=>d[1]);
  const yS = d3.scaleLinear().domain(expand([0,mx])).range([py(k)+H,py(k)]);
  densYScales.push(yS);
  const yMaj = k===0 ? djupDensityTicks : d3.range(0, mx*1.06, 0.2);
  const c = panelBase(k,k,tickValues[k],yS,yMaj);
  c.append("path").datum(dens).attr("fill","none").attr("stroke","#000").attr("stroke-width",1.3)
    .attr("d",d3.line().x(d=>xs[k](d[0])).y(d=>yS(d[1])).curve(d3.curveMonotoneX));
});

// scatter panels
const scatterPanels = [
  [1,0,vagDjup,fitVagDjup],[2,0,salDjup,fitSalDjup],[3,0,lutDjup,fitLutDjup],[4,0,tempDjup,fitTempDjup],
  [2,1,salVag,fitSalVag],[3,1,lutVag,fitLutVag],[4,1,tempVag,fitTempVag],
  [3,2,lutSal,fitLutSal],[4,2,tempSal,fitTempSal],[4,3,tempLut,fitTempLut]];
scatterPanels.forEach(([j,i,pts,fit])=>{
  const x = xs[i], y = ys[j];
  const c = panelBase(i,j,tickValues[i],y,tickValues[j]);
  c.selectAll("circle").data(pts).join("circle").attr("cx",d=>x(d[0])).attr("cy",d=>y(d[1])).attr("r",4.8).attr("fill","#000");
  c.append("path").datum(fit).attr("fill","#ff0000").attr("fill-opacity",0.42)
    .attr("d",d3.area().x(d=>x(d[0])).y0(d=>y(d[2])).y1(d=>y(d[3])).curve(d3.curveMonotoneX));
  c.append("path").datum(fit).attr("fill","none").attr("stroke","#ff0000").attr("stroke-width",2.2)
    .attr("d",d3.line().x(d=>x(d[0])).y(d=>y(d[1])).curve(d3.curveMonotoneX));
});

// correlation panels
corrCells.forEach(([j,i],k)=>{
  const cx = px(i)+W/2, cy = py(j)+H/2;
  svg.append("rect").attr("x",px(i)+0.8).attr("y",py(j)+0.8).attr("width",W-1.6).attr("height",H-1.6)
    .attr("fill",corrFills[k]).attr("stroke","#333").attr("stroke-width",1.6);
  svg.append("text").attr("x",cx).attr("y",cy-5.5).attr("text-anchor","middle").attr("font-size",24).attr("fill","#7f7f7f").text("Corr:");
  svg.append("text").attr("x",cx).attr("y",cy+29.5).attr("text-anchor","middle").attr("font-size",24).attr("fill","#7f7f7f").text(corrValues[k]+corrStars[k]);
});

// strips
variables.forEach((v,k)=>{
  svg.append("rect").attr("x",px(k)).attr("y",10).attr("width",W).attr("height",40).attr("fill","#D9D9D9");
  svg.append("text").attr("x",px(k)+W/2).attr("y",38.5).attr("text-anchor","middle").attr("font-size",19).attr("fill","#1a1a1a").text(v);
  svg.append("rect").attr("x",px(4)+W).attr("y",py(k)).attr("width",34).attr("height",H).attr("fill","#D9D9D9");
  const t = svg.append("text").attr("transform",`translate(${px(4)+W+8},${py(k)+H/2}) rotate(90)`)
    .attr("text-anchor","middle").attr("font-size",k===1?15:19).attr("fill","#1a1a1a").text(v);
  if(k===1) t.attr("textLength",116).attr("lengthAdjust","spacingAndGlyphs");
});

// axes: bottom
tickValues.forEach((tv,i)=>{
  const yb = py(4)+H;
  tv.forEach((v,n)=>{
    const xv = xs[i](v);
    svg.append("line").attr("x1",xv).attr("x2",xv).attr("y1",yb).attr("y2",yb+4.5).attr("stroke","#333").attr("stroke-width",1.2);
    svg.append("text").attr("x",xv).attr("y",yb+26).attr("text-anchor","middle").attr("font-size",19).attr("fill","#4d4d4d").text(tickLabels[i][n]);
  });
});
// axes: left
function leftTicks(vals,labels,scale){
  vals.forEach((v,n)=>{
    const yv = scale(v);
    svg.append("line").attr("x1",X0-4.5).attr("x2",X0).attr("y1",yv).attr("y2",yv).attr("stroke","#333").attr("stroke-width",1.2);
    svg.append("text").attr("x",X0-9).attr("y",yv+6.6).attr("text-anchor","end").attr("font-size",18.5).attr("fill","#4d4d4d").text(labels[n]);
  });
}
leftTicks(djupDensityTicks,djupDensityLabels,densYScales[0]);
for(let j=1;j<5;j++) leftTicks(tickValues[j],tickLabels[j],ys[j]);
</script>
</body></html>
